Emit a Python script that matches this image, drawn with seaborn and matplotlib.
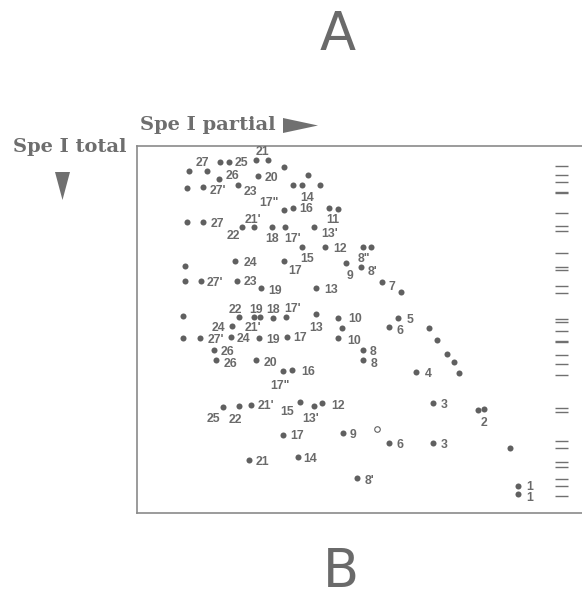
import pandas as pd
import matplotlib
matplotlib.use('Agg')
import matplotlib.pyplot as plt
import matplotlib.transforms as mtransforms
from matplotlib.patches import Polygon
import seaborn as sns

sns.set_theme(style='white')
plt.rcParams['font.family'] = ['Liberation Sans', 'DejaVu Sans']

# =============================================================================
# Data (x: Spe I partial, y: Spe I total, downward)
# =============================================================================

x_pos = [52.0, 69.7, 83.0, 92.3, 119.0, 131.3, 147.3, 82.0, 121.3, 170.7,
         49.7, 66.3, 100.7, 155.7, 165.3, 183.0, 147.0, 155.7, 192.0, 201.0,
         49.7, 66.3, 104.7, 117.3, 134.7, 148.0, 177.3, 165.3, 188.3, 225.7,
         233.7, 48.0, 98.0, 147.3, 208.7, 224.0, 48.0, 63.7, 99.7, 123.7,
         178.7, 245.3, 264.0, 46.3, 102.3, 117.3, 123.0, 135.7, 148.7, 178.7,
         201.3, 204.7, 261.3, 252.0, 292.3, 95.3, 46.3, 63.0, 94.0, 122.3,
         149.7, 201.3, 77.0, 78.7, 119.0, 145.7, 155.3, 226.3, 226.3, 300.3,
         309.7, 317.3, 322.0, 279.3, 85.7, 102.0, 114.3, 163.3, 177.0, 185.3,
         295.7, 341.3, 347.3, 145.7, 206.3, 252.0, 296.3, 373.0, 112.0, 161.0,
         219.7, 381.3, 381.3]
y_pos = [24.7, 24.7, 15.7, 15.7, 14.0, 14.0, 21.3, 33.0, 30.0, 29.0,
         41.7, 40.7, 39.0, 39.0, 39.0, 39.0, 64.0, 61.7, 61.7, 62.7,
         75.7, 75.7, 80.7, 80.7, 80.7, 80.7, 81.3, 101.3, 100.7, 100.7,
         100.7, 119.7, 115.0, 115.0, 117.3, 121.0, 135.0, 135.0, 135.0, 142.3,
         142.3, 136.3, 145.7, 170.0, 170.7, 170.7, 170.7, 172.3, 171.3, 168.3,
         171.5, 182.3, 172.3, 181.3, 182.3, 180.0, 192.3, 192.3, 190.7, 192.3,
         190.7, 192.3, 204.0, 214.0, 214.0, 224.7, 224.0, 204.3, 214.3, 194.3,
         207.7, 215.7, 226.7, 225.7, 261.3, 259.7, 258.7, 256.3, 259.7, 257.3,
         257.3, 264.0, 263.0, 289.0, 287.3, 296.7, 296.7, 301.7, 314.0, 310.7,
         332.3, 339.7, 348.3]
point_labels = ['', '27', '', '25', '21', '', '', '26', '20', '',
                '', "27'", '23', '', '14', '', '17"', '16', '', '11',
                '', '27', '22', "21'", '18', "17'", "13'", '15', '12', '8"',
                '', '', '24', '17', '9', "8'", '', "27'", '23', '19',
                '13', '7', '', '', '22', '19', "21'", '18', "17'", '13',
                '10', '', '5', '6', '', '24', '', "27'", '24', '19',
                '17', '10', '26', '26', '20', '17"', '16', '8', '8', '',
                '', '', '', '4', '25', '22', "21'", '15', "13'", '12',
                '3', '', '2', '17', '9', '6', '3', '', '21', '14',
                "8'", '1', '1']

# the one open circle
open_x = [240.3]
open_y = [283.3]

# short bars down the right-hand side
row_ticks = [19.7, 29.0, 36.3, 45.6, 47.0, 67.3, 80.0, 85.3, 107.3, 120.7,
             124.0, 139.7, 147.3, 173.3, 176.3, 185.0, 195.0, 196.4, 209.0,
             218.0, 229.0, 262.3, 265.7, 295.0, 301.7, 315.7, 321.3, 333.3,
             340.0, 350.0]

# where each number sits relative to its dot (pixels, right / down)
label_offsets = [(0, 0), (-4, -9), (0, 0), (12, 0), (6.5, -9.5), (0, 0), (0, 0),
                 (13, -4.5), (12.7, 1), (0, 0),
                 (0, 0), (15, 3.3), (12.3, 5.3), (0, 0), (4.4, 11.7), (0, 0),
                 (-15, -8.3), (13.6, 0), (0, 0), (-5.5, 10.3),
                 (0, 0), (13.7, 0.8), (-8, 8.3), (-1.8, -8.4), (0, 10.8),
                 (7.5, 10.8), (15, 5.2), (5, 10.7), (14.7, 0.5), (1.6, 11),
                 (0, 0), (0, 0), (15, 1), (10.7, 8.7), (4.3, 11.2), (11, 3.8),
                 (0, 0), (14, 1), (13.3, 0), (14.3, 1.4),
                 (15.6, 0.4), (9.7, 3.2), (0, 0), (0, 0), (-4, -7.9), (1.4, -7.9),
                 (-7.5, 9.6), (0.6, -10), (7, -9.8), (0, 12),
                 (16.7, 0), (0, 0), (11.7, 0.5), (11, 2.2), (0, 0), (-14.3, 1),
                 (0, 0), (16, 0), (12.7, 1.3), (14, 0),
                 (13.8, 0), (15.7, 1.7), (13.3, 0.5), (14.3, 2.5), (14, 1.7),
                 (-2.7, 13.5), (16, 0.3), (9.7, 0.7), (10.5, 2.2), (0, 0),
                 (0, 0), (0, 0), (0, 0), (12, 1.1), (-9.2, 10.2), (-4, 13),
                 (15, -0.4), (-13.3, 8.5), (-3.2, 11.8), (15.4, 0.9),
                 (11, 0.5), (0, 0), (0, 12.3), (14, 0), (9.4, 0), (11.3, 1),
                 (10.4, 1.3), (0, 0), (13.5, 0.8), (12.5, 1.3),
                 (13, 1.7), (11, -0.5), (11, 2.0)]

df = pd.DataFrame({'x': x_pos, 'y': y_pos, 'label': point_labels})

# =============================================================================
# Plot
# =============================================================================

W, H = 582, 599
fig = plt.figure(figsize=(W / 100, H / 100), dpi=100)
fig.patch.set_facecolor('white')
ax = fig.add_axes([137 / W, 1 - 513 / H, 460 / W, 367 / H])

grey = '#606060'
sns.scatterplot(data=df, x='x', y='y', ax=ax, color=grey, s=19,
                linewidth=0, legend=False)
ax.scatter(open_x, open_y, s=16, facecolors='white', edgecolors=grey,
           linewidths=0.8, zorder=3)

for (_, row), (dx, dy) in zip(df.iterrows(), label_offsets):
    if row['label']:
        ax.annotate(row['label'], (row['x'], row['y']),
                    xytext=(dx, -dy - 4.4), textcoords='offset pixels',
                    ha='center', va='baseline', fontsize=8.8,
                    fontweight='bold', color='#6a6a6a')

trans = mtransforms.blended_transform_factory(ax.transAxes, ax.transData)
ax.hlines(row_ticks, 418 / 460, 431 / 460, transform=trans, color='#707070',
          lw=1.0)

ax.set_xlim(0, 460)
ax.set_ylim(367, 0)
ax.set_xticks([])
ax.set_yticks([])
ax.set_xlabel('')
ax.set_ylabel('')
ax.spines['right'].set_visible(False)
for sp in ax.spines.values():
    sp.set_color('#8a8a8a')
    sp.set_linewidth(1.2)

# titles and axis names
fig.text(338 / W, 1 - 35 / H, 'A', ha='center', va='center', fontsize=38,
         color='#6a6a6a', family='DejaVu Sans')
fig.text(341 / W, 1 - 572 / H, 'B', ha='center', va='center', fontsize=38,
         color='#6a6a6a', family='DejaVu Sans')
fig.text(140 / W, 1 - 125 / H, 'Spe I partial', ha='left', va='center',
         fontsize=14, fontweight='bold', color='#6e6e6e',
         family='DejaVu Serif')
fig.text(13 / W, 1 - 147 / H, 'Spe I total', ha='left', va='center',
         fontsize=14, fontweight='bold', color='#6e6e6e',
         family='DejaVu Serif')

# the two pointer triangles
tri_right = [(283, 118), (283, 133), (318, 125.5)]
tri_down = [(55, 172), (70, 172), (62.5, 200)]
for tri in (tri_right, tri_down):
    pts = [(px / W, 1 - py / H) for px, py in tri]
    fig.patches.append(Polygon(pts, closed=True, transform=fig.transFigure,
                               facecolor='#707070', edgecolor='none'))

fig.savefig('out.png', dpi=100)
